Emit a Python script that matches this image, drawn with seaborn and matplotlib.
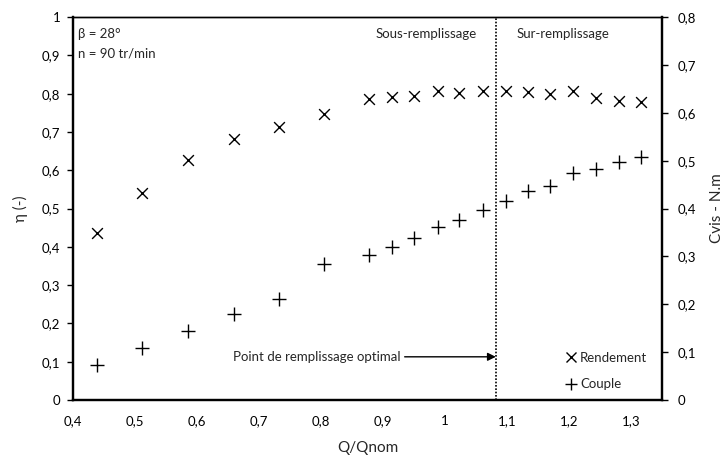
import numpy as np
import pandas as pd
import matplotlib
matplotlib.use("Agg")
import matplotlib.pyplot as plt
import matplotlib.ticker as mticker
from matplotlib.lines import Line2D
import seaborn as sns

# données
q_ratio = [0.439, 0.512, 0.585, 0.659, 0.732, 0.805, 0.878, 0.915, 0.950, 0.988,
           1.023, 1.061, 1.098, 1.134, 1.169, 1.207, 1.244, 1.280, 1.316]
rendement = [0.435, 0.542, 0.627, 0.683, 0.713, 0.746, 0.786, 0.792, 0.793, 0.808,
             0.802, 0.808, 0.806, 0.805, 0.798, 0.806, 0.789, 0.781, 0.779]
couple = [0.073, 0.108, 0.145, 0.179, 0.211, 0.284, 0.304, 0.320, 0.338, 0.362,
          0.377, 0.397, 0.416, 0.437, 0.448, 0.474, 0.483, 0.497, 0.507]
q_optimal = 1.082

df = pd.DataFrame({"Q": q_ratio, "eta": rendement, "C": couple})

sns.set_style("white")
plt.rcParams["font.family"] = ["Lato", "DejaVu Sans"]

fig = plt.figure(figsize=(7.24, 4.62), dpi=100)
ax = fig.add_axes([0.1008, 0.134, 0.8135, 0.829])
ax2 = ax.twinx()

sns.scatterplot(data=df, x="Q", y="eta", marker="x", s=60, color="black",
                linewidth=1.0, ax=ax, legend=False)
sns.scatterplot(data=df, x="Q", y="C", marker="+", s=90, color="black",
                linewidth=1.0, ax=ax2, legend=False)

ax.set_xlim(0.4, 1.35)
ax.set_ylim(0, 1)
ax2.set_ylim(0, 0.8)
ax.set_xticks(np.arange(0.4, 1.31, 0.1))
ax.set_yticks(np.arange(0, 1.01, 0.1))
ax2.set_yticks(np.arange(0, 0.81, 0.1))


def virgule(v, pos):
    if abs(v - round(v)) < 1e-9:
        return f"{int(round(v))}"
    return f"{v:.1f}".replace(".", ",")


ax.xaxis.set_major_formatter(mticker.FuncFormatter(virgule))
ax.yaxis.set_major_formatter(mticker.FuncFormatter(virgule))
ax2.yaxis.set_major_formatter(mticker.FuncFormatter(virgule))

for a in (ax, ax2):
    for side in ("left", "bottom", "right"):
        a.spines[side].set_linewidth(1.6)
        a.spines[side].set_color("black")
    a.spines["top"].set_linewidth(1.0)
    a.spines["top"].set_color("black")
    a.tick_params(direction="out", length=4, width=1, labelsize=9.5, colors="black")
ax.tick_params(axis="x", pad=7)
ax.tick_params(axis="y", left=True, pad=5)
ax2.tick_params(axis="y", right=True, pad=7)

ax.set_xlabel("Q/Qnom", fontsize=11, labelpad=10)
ax.set_ylabel("η (-)", fontsize=11, labelpad=10)
ax2.set_ylabel("Cvis - N.m", fontsize=11, labelpad=10)
ax2.set_xlabel("")

ax.axvline(q_optimal, color="black", linestyle=(0, (1, 1)), linewidth=1.2)

ax.text(0.408, 0.955, "β = 28°", fontsize=9.5, va="center")
ax.text(0.408, 0.905, "n = 90 tr/min", fontsize=9.5, va="center")
ax.text(0.97, 0.955, "Sous-remplissage", fontsize=9.5, ha="center", va="center")
ax.text(1.19, 0.955, "Sur-remplissage", fontsize=9.5, ha="center", va="center")

ax.annotate("", xy=(q_optimal, 0.113), xytext=(0.935, 0.113),
            arrowprops=dict(arrowstyle="-|>", color="black", lw=1.0,
                            mutation_scale=12, shrinkA=0, shrinkB=0))
ax.text(0.928, 0.113, "Point de remplissage optimal", fontsize=9.5, ha="right", va="center")

handles = [Line2D([], [], marker="x", linestyle="", color="black", markersize=7.5, markeredgewidth=1),
           Line2D([], [], marker="+", linestyle="", color="black", markersize=9, markeredgewidth=1)]
ax.legend(handles, ["Rendement", "Couple"], loc="lower right", bbox_to_anchor=(0.995, -0.005),
          frameon=False, fontsize=9.5, handlelength=0.8, handletextpad=0.3, labelspacing=1.1)

fig.savefig("out.png", dpi=100)
